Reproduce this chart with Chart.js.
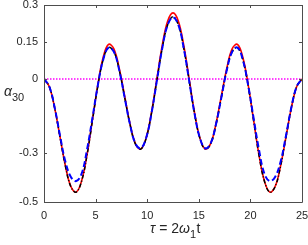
<!DOCTYPE html>
<html>
<head>
<meta charset="utf-8">
<script src="https://cdn.jsdelivr.net/npm/chart.js@4"></script>
<style>
html,body{margin:0;padding:0;background:#fff;}
#c{display:block;}
</style>
</head>
<body>
<canvas id="c" width="308" height="245"></canvas>
<script>
// ---- data ----
const tau = [0, 0.521, 1.042, 1.563, 2.083, 2.604, 3.125, 3.646, 4.167, 4.688, 5.208, 5.729, 6.25, 6.771, 7.292, 7.813, 8.333, 8.854, 9.375, 9.896, 10.417, 10.938, 11.458, 11.979, 12.5, 13.021, 13.542, 14.063, 14.583, 15.104, 15.625, 16.146, 16.667, 17.188, 17.708, 18.229, 18.75, 19.271, 19.792, 20.313, 20.833, 21.354, 21.875, 22.396, 22.917, 23.438, 23.958, 24.479, 25];
const redSeries = [0, -0.032, -0.12, -0.238, -0.355, -0.437, -0.46, -0.414, -0.309, -0.168, -0.026, 0.087, 0.14, 0.122, 0.042, -0.069, -0.182, -0.263, -0.285, -0.24, -0.136, 0.001, 0.136, 0.234, 0.268, 0.234, 0.136, 0.001, -0.136, -0.24, -0.285, -0.263, -0.182, -0.069, 0.042, 0.122, 0.14, 0.087, -0.026, -0.168, -0.309, -0.414, -0.46, -0.437, -0.355, -0.238, -0.12, -0.032, 0];
const blackSeries = [0, -0.032, -0.12, -0.239, -0.356, -0.438, -0.46, -0.415, -0.31, -0.171, -0.031, 0.077, 0.127, 0.11, 0.035, -0.075, -0.185, -0.264, -0.285, -0.241, -0.14, -0.007, 0.124, 0.219, 0.252, 0.219, 0.124, -0.007, -0.14, -0.241, -0.285, -0.264, -0.185, -0.075, 0.035, 0.11, 0.127, 0.077, -0.031, -0.171, -0.31, -0.415, -0.46, -0.438, -0.356, -0.239, -0.12, -0.032, 0];
const blueSeries = [0, -0.032, -0.118, -0.233, -0.338, -0.398, -0.415, -0.385, -0.288, -0.16, -0.028, 0.077, 0.127, 0.11, 0.035, -0.075, -0.184, -0.262, -0.282, -0.24, -0.14, -0.007, 0.124, 0.219, 0.25, 0.219, 0.124, -0.007, -0.14, -0.24, -0.282, -0.262, -0.184, -0.075, 0.035, 0.11, 0.127, 0.077, -0.028, -0.16, -0.288, -0.385, -0.415, -0.398, -0.338, -0.233, -0.118, -0.032, 0];
const zeroX = [0, 25];
const zeroY = [0, 0];
const xTicks = [0, 5, 10, 15, 20, 25];
const yTicks = [0.3, 0.15, 0, -0.3, -0.5];
const yTickLabels = ['0.3', '0.15', '0', '-0.3', '-0.5'];
// [text, italic, subscript]
const xTitleParts = [['τ', true, false], [' = 2', false, false], ['ω', true, false], ['1', false, true], ['t', false, false]];
const yTitleParts = [['α', true, false], ['30', false, true]];

const pts = (xs, ys) => xs.map((x, i) => ({x: x, y: ys[i]}));

const FONT = '"Liberation Sans", Arial, Helvetica, sans-serif';
const AX = '#4d4d4d';
const TXT = '#262626';

function drawParts(ctx, parts, x, y, size, subSize, center) {
  const fontOf = p => (p[1] ? 'italic ' : '') + (p[2] ? subSize : size) + 'px ' + FONT;
  let total = 0;
  parts.forEach(p => { ctx.font = fontOf(p); total += ctx.measureText(p[0]).width; });
  let cx = center ? x - total / 2 : x;
  parts.forEach(p => {
    ctx.font = fontOf(p);
    ctx.fillText(p[0], cx, p[2] ? y + 5 : y);
    cx += ctx.measureText(p[0]).width + (p[2] ? 0.5 : 0);
  });
}

const frame = {
  id: 'frame',
  afterDraw(chart) {
    const ctx = chart.ctx, a = chart.chartArea;
    const xs = chart.scales.x, ys = chart.scales.y;
    ctx.save();
    ctx.strokeStyle = AX;
    ctx.lineWidth = 1;
    ctx.beginPath();
    ctx.rect(Math.round(a.left) + 0.5, Math.round(a.top) + 0.5, Math.round(a.right - a.left), Math.round(a.bottom - a.top));
    ctx.stroke();
    const L = 3;
    ctx.beginPath();
    xTicks.forEach(v => {
      const px = Math.round(xs.getPixelForValue(v)) + 0.5;
      ctx.moveTo(px, a.bottom); ctx.lineTo(px, a.bottom - L);
      ctx.moveTo(px, a.top); ctx.lineTo(px, a.top + L);
    });
    yTicks.forEach(v => {
      const py = Math.round(ys.getPixelForValue(v)) + 0.5;
      ctx.moveTo(a.left, py); ctx.lineTo(a.left + L, py);
      ctx.moveTo(a.right, py); ctx.lineTo(a.right - L, py);
    });
    ctx.stroke();
    ctx.fillStyle = TXT;
    ctx.textBaseline = 'alphabetic';
    ctx.textAlign = 'left';
    drawParts(ctx, xTitleParts, (a.left + a.right) / 2 + 2, 233, 14, 11, true);
    drawParts(ctx, yTitleParts, 4, 96, 14, 11, false);
    ctx.restore();
  }
};

new Chart(document.getElementById('c'), {
  type: 'line',
  data: {
    datasets: [
      {data: pts(tau, blueSeries), borderColor: '#0000ff', borderWidth: 2, borderDash: [6, 3], order: 0},
      {data: pts(tau, blackSeries), borderColor: '#000000', borderWidth: 1.5, borderDash: [4, 2, 1, 2], order: 1},
      {data: pts(tau, redSeries), borderColor: '#ff0000', borderWidth: 1.6, order: 2},
      {data: pts(zeroX, zeroY), borderColor: '#ff00ff', borderWidth: 1.5, borderDash: [1.5, 1.5], tension: 0, order: 3}
    ]
  },
  options: {
    responsive: false,
    devicePixelRatio: 1,
    animation: false,
    events: [],
    layout: {padding: {top: 5, right: 6, left: 0, bottom: 0}},
    elements: {point: {radius: 0}, line: {tension: 0.4, fill: false}},
    plugins: {legend: {display: false}, tooltip: {enabled: false}},
    scales: {
      x: {
        type: 'linear', min: 0, max: 25,
        afterBuildTicks: s => { s.ticks = xTicks.map(v => ({value: v})); },
        afterFit: s => { s.height = 43; s.paddingLeft = 0; s.paddingRight = 0; },
        grid: {display: false, drawTicks: false},
        border: {display: false},
        ticks: {padding: 7, color: TXT, font: {family: FONT, size: 11}, maxRotation: 0, autoSkip: false}
      },
      y: {
        type: 'linear', min: -0.5, max: 0.3,
        afterBuildTicks: s => { s.ticks = yTicks.map(v => ({value: v})); },
        afterFit: s => { s.width = 44; s.paddingTop = 0; s.paddingBottom = 0; },
        grid: {display: false, drawTicks: false},
        border: {display: false},
        ticks: {
          padding: 6, color: TXT, font: {family: FONT, size: 11}, autoSkip: false,
          callback: (v) => { const i = yTicks.indexOf(v); return i >= 0 ? yTickLabels[i] : ''; }
        }
      }
    }
  },
  plugins: [frame]
});
</script>
</body>
</html>
